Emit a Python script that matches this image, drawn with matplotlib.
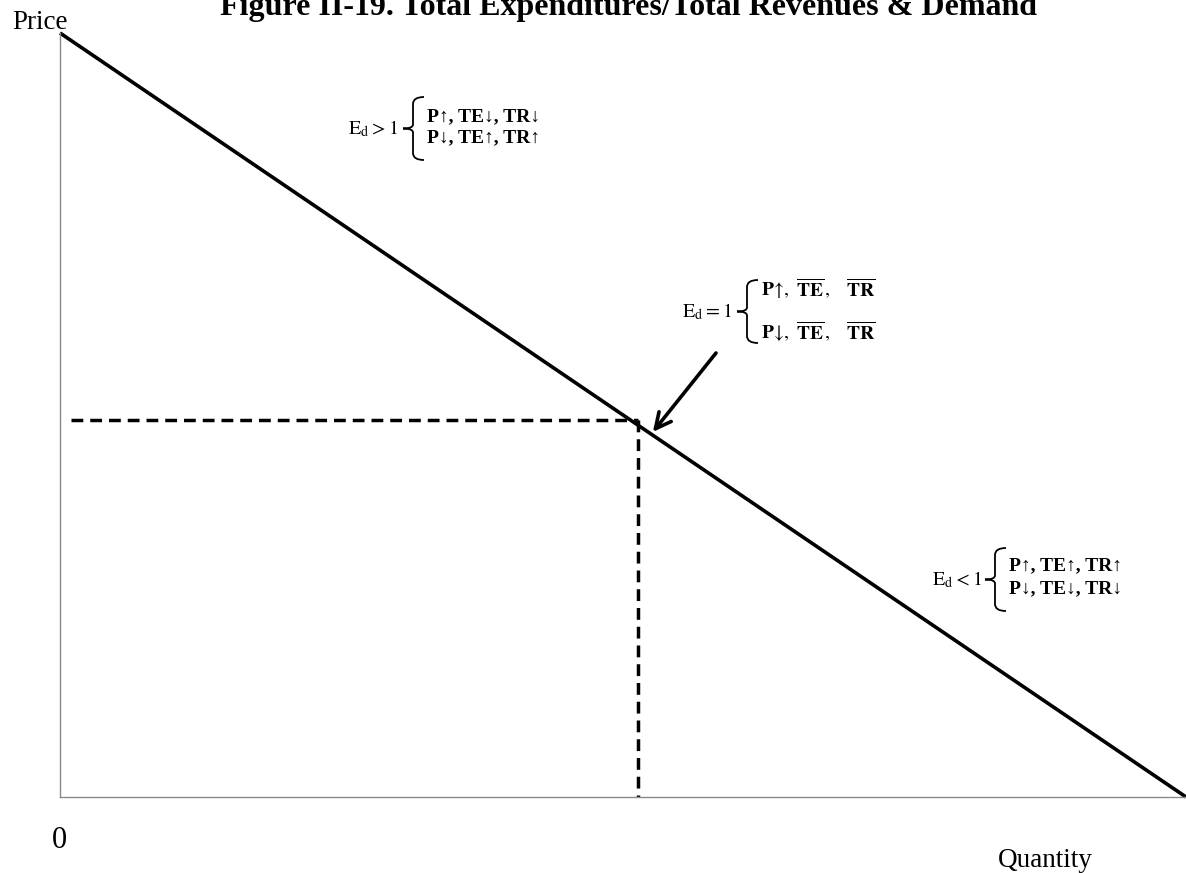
import matplotlib
matplotlib.use("Agg")
from matplotlib import pyplot as plt
from matplotlib.path import Path
from matplotlib.patches import PathPatch

plt.rcParams['mathtext.fontset'] = 'stix'
serif = ['Liberation Serif', 'DejaVu Serif']

# demand curve, linear from the price intercept to the quantity intercept
quantity = [0, 10]
price = [10, 0]
# unit elastic point
q_unit = 5.13
p_unit = 4.93

title = "Figure II-19. Total Expenditures/Total Revenues & Demand"
elastic_rows = ["P\u2191, TE\u2193, TR\u2193", "P\u2193, TE\u2191, TR\u2191"]
inelastic_rows = ["P\u2191, TE\u2191, TR\u2191", "P\u2193, TE\u2193, TR\u2193"]
unit_rows = [r"$\mathbf{P}\!\uparrow\!,\ \overline{\mathbf{TE}}\,,\ \ \ \overline{\mathbf{TR}}$",
             r"$\mathbf{P}\!\downarrow\!,\ \overline{\mathbf{TE}}\,,\ \ \ \overline{\mathbf{TR}}$"]

W, H = 1186, 873
fig = plt.figure(figsize=(W / 100, H / 100), dpi=100)
ax = fig.add_axes([60 / W, 1 - 797 / H, 1126 / W, 764 / H])
ax.set_xlim(0, 10)
ax.set_ylim(0, 10)
ax.set_xticks([])
ax.set_yticks([])
for s in ['top', 'right']:
    ax.spines[s].set_visible(False)
for s in ['left', 'bottom']:
    ax.spines[s].set_color('#8a8a8a')
    ax.spines[s].set_linewidth(1.0)

ax.plot(quantity, price, color='black', lw=2.6, solid_capstyle='butt', clip_on=False)
ax.plot([0.1, q_unit], [p_unit, p_unit], color='black', lw=2.5, dashes=(3.4, 2))
ax.plot([q_unit, q_unit], [p_unit, 0], color='black', lw=2.5, dashes=(3.4, 2))


def fx(x):
    return x / W


def fy(y):
    return 1 - y / H


def brace(x0, yt, yb, w=11, t=10):
    ym = (yt + yb) / 2
    pts = [(x0 + w, yt), (x0, yt), (x0, yt + 7),
           (x0, ym - 4), (x0, ym), (x0 - t, ym),
           (x0, ym), (x0, ym + 4),
           (x0, yb - 7), (x0, yb), (x0 + w, yb)]
    codes = [Path.MOVETO, Path.CURVE3, Path.CURVE3,
             Path.LINETO, Path.CURVE3, Path.CURVE3,
             Path.CURVE3, Path.CURVE3,
             Path.LINETO, Path.CURVE3, Path.CURVE3]
    verts = [(fx(a), fy(b)) for a, b in pts]
    fig.add_artist(PathPatch(Path(verts, codes), fill=False, lw=1.3,
                             edgecolor='black', transform=fig.transFigure))


def label_block(x_lab, lab, x0, yt, yb, rows, row_y, bold=True):
    brace(x0, yt, yb)
    fig.text(fx(x_lab), fy((yt + yb) / 2), lab, ha='right', va='center',
             fontsize=14.5, family=serif)
    for r, y in zip(rows, row_y):
        fig.text(fx(x0 + 14), fy(y), r, ha='left', va='center', fontsize=14,
                 family=serif, fontweight='bold' if bold else 'normal')


label_block(398, r"$\mathrm{E}_{\mathrm{d}}>1$", 413, 97, 160, elastic_rows, [117, 138])
label_block(732, r"$\mathrm{E}_{\mathrm{d}}=1$", 747, 280, 343, unit_rows, [289, 332], bold=False)
label_block(982, r"$\mathrm{E}_{\mathrm{d}}<1$", 995, 548, 611, inelastic_rows, [566, 589])

# arrow to the unit elastic point, tip resting on the demand curve
q_tip = q_unit + 0.12
ax.annotate("", xy=(q_tip, 10 - q_tip), xytext=(fx(716), fy(353)),
            textcoords='figure fraction',
            arrowprops=dict(arrowstyle='->', lw=2.6, color='black',
                            mutation_scale=28, shrinkA=0, shrinkB=2))

fig.text(fx(628), fy(15), title, ha='center', va='baseline', fontsize=23,
         fontweight='bold', family=serif)
fig.text(fx(12), fy(29), "Price", ha='left', va='baseline', fontsize=19.5, family=serif)
fig.text(fx(52), fy(848), "0", ha='left', va='baseline', fontsize=22, family=serif)
fig.text(fx(998), fy(867), "Quantity", ha='left', va='baseline', fontsize=19.5, family=serif)

fig.savefig("out.png", dpi=100)
